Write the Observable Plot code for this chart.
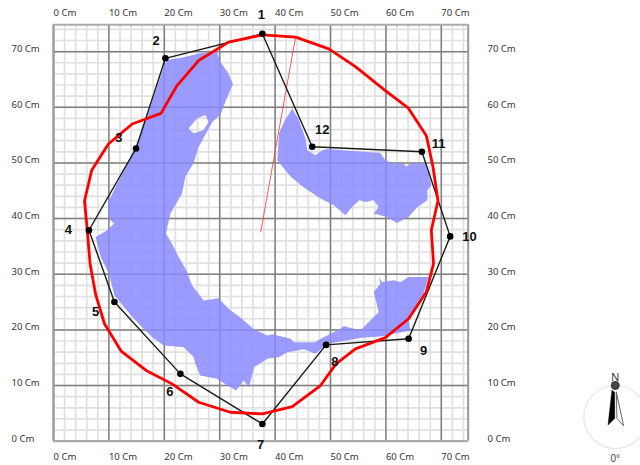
<!DOCTYPE html>
<html><head><meta charset="utf-8">
<style>html,body{margin:0;padding:0;background:#fff}svg{display:block}</style>
<script src="https://cdn.jsdelivr.net/npm/d3@7"></script>
<script src="https://cdn.jsdelivr.net/npm/@observablehq/plot@0.6"></script>
</head><body><script>
const axisTicks = [0,10,20,30,40,50,60,70];
const minorTicks = d3.range(0,75,2);
const frameEnd = 74.85;
const outline = [[37.7,73.2],[20.2,68.8],[14.9,52.6],[6.4,37.9],[11.0,25.0],[22.9,12.1],[37.7,3.1],[49.2,17.3],[64.1,18.4],[71.6,36.8],[66.5,52.0],[46.7,52.9]];
const pointLabels = [["1",37.5,76.6],["2",18.5,72.0],["3",11.8,54.5],["4",2.7,37.9],["5",7.6,23.3],["6",21.0,8.8],["7",37.4,-0.7],["8",50.8,14.3],["9",66.8,16.3],["10",75.1,36.7],["11",69.5,53.4],["12",48.5,55.9]];
const redCurve = [[37.7,73.0],[43.7,72.6],[49.7,70.5],[54.5,67.3],[59.9,63.0],[64.0,59.9],[67.3,54.9],[68.5,49.3],[69.4,43.2],[68.2,37.9],[68.6,31.9],[67.3,26.8],[64.1,22.0],[59.9,18.6],[54.5,16.6],[51.0,13.9],[48.2,10.0],[43.1,6.2],[37.7,4.9],[31.9,5.2],[26.2,7.0],[21.4,10.3],[16.9,12.6],[12.2,16.2],[9.2,21.1],[7.6,26.4],[6.6,31.9],[6.1,37.9],[5.6,43.2],[6.9,48.7],[9.9,53.4],[14.2,57.0],[19.4,58.9],[22.3,63.9],[26.2,68.4],[31.6,71.7],[37.7,73.0]];
const needle = [[43.7,72.6],[37.4,37.6]];
const westArea = [[20.5,68.5],[23.5,69.0],[26.5,69.7],[29.5,70.0],[30.1,68.2],[31.4,66.4],[32.4,64.2],[31.4,61.9],[30.1,58.6],[28.7,57.4],
 [28.0,57.4],[27.4,58.6],[25.9,58.0],[24.4,56.2],[25.3,55.3],[27.1,55.9],[28.0,57.4],[28.7,57.4],
 [27.5,55.2],[26.2,52.9],[25.3,50.0],[23.8,47.5],[23.2,44.5],[21.1,40.9],[20.3,37.3],[21.4,35.5],[22.6,33.1],[24.0,30.7],[25.0,28.0],[27.1,25.3],[29.8,25.7],[31.6,23.8],[33.8,22.2],[36.2,20.1],[38.6,19.0],[39.5,19.2],[42.8,18.4],[43.4,17.8],[47.3,17.8],[48.2,18.4],[51.8,20.2],[52.4,20.7],[55.4,19.9],[57.8,22.3],[58.7,23.2],[57.8,26.8],[59.0,28.3],[58.7,29.5],[59.3,28.6],[61.4,28.9],[62.6,28.6],[64.1,29.5],[67.7,29.5],[66.8,26.5],[64.1,22.0],[64.4,19.9],[59.0,18.8],[55.7,18.6],[49.4,17.5],[47.3,15.7],[45.2,16.5],[42.2,16.0],[40.7,15.1],[38.6,14.8],[36.2,13.3],[35.3,9.7],[34.3,10.9],[33.0,9.1],[31.4,10.0],[29.5,11.2],[26.5,11.8],[25.6,13.9],[25.3,15.1],[23.5,16.9],[19.9,17.2],[17.8,18.7],[14.5,22.0],[11.0,26.2],[10.0,30.1],[8.5,33.1],[7.6,36.7],[9.7,37.9],[10.9,39.1],[10.0,40.0],[9.8,42.7],[11.2,45.7],[14.2,51.4],[16.9,58.3],[19.9,67.3],[20.5,68.5]];
const eastArea = [[43.1,59.8],[44.3,57.7],[45.5,54.4],[45.8,52.3],[47.3,51.4],[48.5,52.3],[49.4,52.5],[59.0,51.8],[59.9,50.5],[61.1,50.0],[63.2,49.9],[63.7,49.3],[64.4,49.9],[67.1,49.9],[67.7,48.1],[68.2,46.0],[67.5,45.1],[67.5,43.3],[65.7,42.1],[64.1,40.3],[62.0,39.2],[60.2,40.3],[57.8,40.9],[58.7,42.1],[57.8,43.3],[56.3,43.0],[55.2,43.3],[53.9,42.1],[52.7,40.6],[50.6,42.4],[48.2,43.6],[45.2,45.6],[42.8,47.5],[40.4,50.5],[40.7,55.3],[41.6,57.4],[43.1,59.8]];
const compassCentre = [[101.4,4.35]];
const compassCap = [[101.4,10.0]];
const compassLeft = [[100.8,9.1],[101.3,8.8],[101.3,4.1],[100.1,2.9],[100.8,9.1]];
const compassRight = [[101.6,8.8],[102.9,2.8],[101.7,4.1],[101.6,8.8]];
const compassTexts = [["N",101.4,11.4,"bold",11,"#333"],["0°",101.4,-3.1,"normal",10,"#444"]];

const X = d=>d[0], Y = d=>d[1];
const tickFont = {fontSize:9.5, fontFamily:"Noto Sans", fill:"#333", tickSize:0, label:null, textAnchor:"start", tickFormat:d=>d+" Cm"};
const blue = {x:X,y:Y,fill:"#8b8bff",fillOpacity:.85,stroke:"none"};

const plot = Plot.plot({
  width:640, height:465,
  marginLeft:53, marginRight:171.5, marginTop:23.3, marginBottom:24.3,
  x:{domain:[0,75]}, y:{domain:[0,75]},
  style:{background:"#fff", overflow:"visible"},
  marks:[
    Plot.ruleX(minorTicks,{y1:0,y2:frameEnd,stroke:"#e0e0e0",strokeWidth:1.7}),
    Plot.ruleY(minorTicks,{x1:0,x2:frameEnd,stroke:"#e0e0e0",strokeWidth:1.7}),
    Plot.ruleX(axisTicks,{y1:0,y2:frameEnd,stroke:"#808080",strokeWidth:1.5}),
    Plot.ruleY(axisTicks,{x1:0,x2:frameEnd,stroke:"#808080",strokeWidth:1.5}),
    Plot.ruleX([0,frameEnd],{y1:0,y2:frameEnd,stroke:"#999",strokeWidth:2}),
    Plot.ruleY([0,frameEnd],{x1:0,x2:frameEnd,stroke:"#aaa",strokeWidth:2}),
    Plot.line(westArea,blue),
    Plot.line(eastArea,blue),
    Plot.axisX(axisTicks,{anchor:"top",tickPadding:8,...tickFont}),
    Plot.axisX(axisTicks,{anchor:"bottom",tickPadding:12,...tickFont}),
    Plot.axisY(axisTicks,{anchor:"left",tickPadding:42,dy:-2.7,...tickFont}),
    Plot.axisY(axisTicks,{anchor:"right",tickPadding:18.5,dy:-2.7,...tickFont}),
    Plot.line(needle,{x:X,y:Y,stroke:"#ff3030",strokeWidth:.8}),
    Plot.line([...outline,outline[0]],{x:X,y:Y,stroke:"#1a1a1a",strokeWidth:1.4}),
    Plot.line(redCurve,{x:X,y:Y,stroke:"#ff0000",strokeWidth:2.8,strokeLinejoin:"round"}),
    Plot.dot(outline,{x:X,y:Y,r:3.3,fill:"#000",stroke:"none"}),
    Plot.text(pointLabels,{x:d=>d[1],y:d=>d[2],text:d=>d[0],fontSize:13,fontWeight:"bold",fontFamily:"Liberation Sans",fill:"#111"}),
    Plot.dot(compassCentre,{x:X,y:Y,r:31.5,stroke:"#e6e6e6",strokeWidth:1.2,fill:"none"}),
    Plot.line(compassRight,{x:X,y:Y,stroke:"#666",strokeWidth:1,fill:"#fff"}),
    Plot.line(compassLeft,{x:X,y:Y,fill:"#000",stroke:"#000",strokeWidth:.5}),
    Plot.dot(compassCap,{x:X,y:Y,r:4.5,fill:"#444",stroke:"none"}),
    Plot.text(compassTexts,{x:d=>d[1],y:d=>d[2],text:d=>d[0],fontWeight:d=>d[3],fontSize:d=>d[4],fill:d=>d[5],fontFamily:"Liberation Sans"})
  ]
});
document.body.appendChild(plot);
</script></body></html>
